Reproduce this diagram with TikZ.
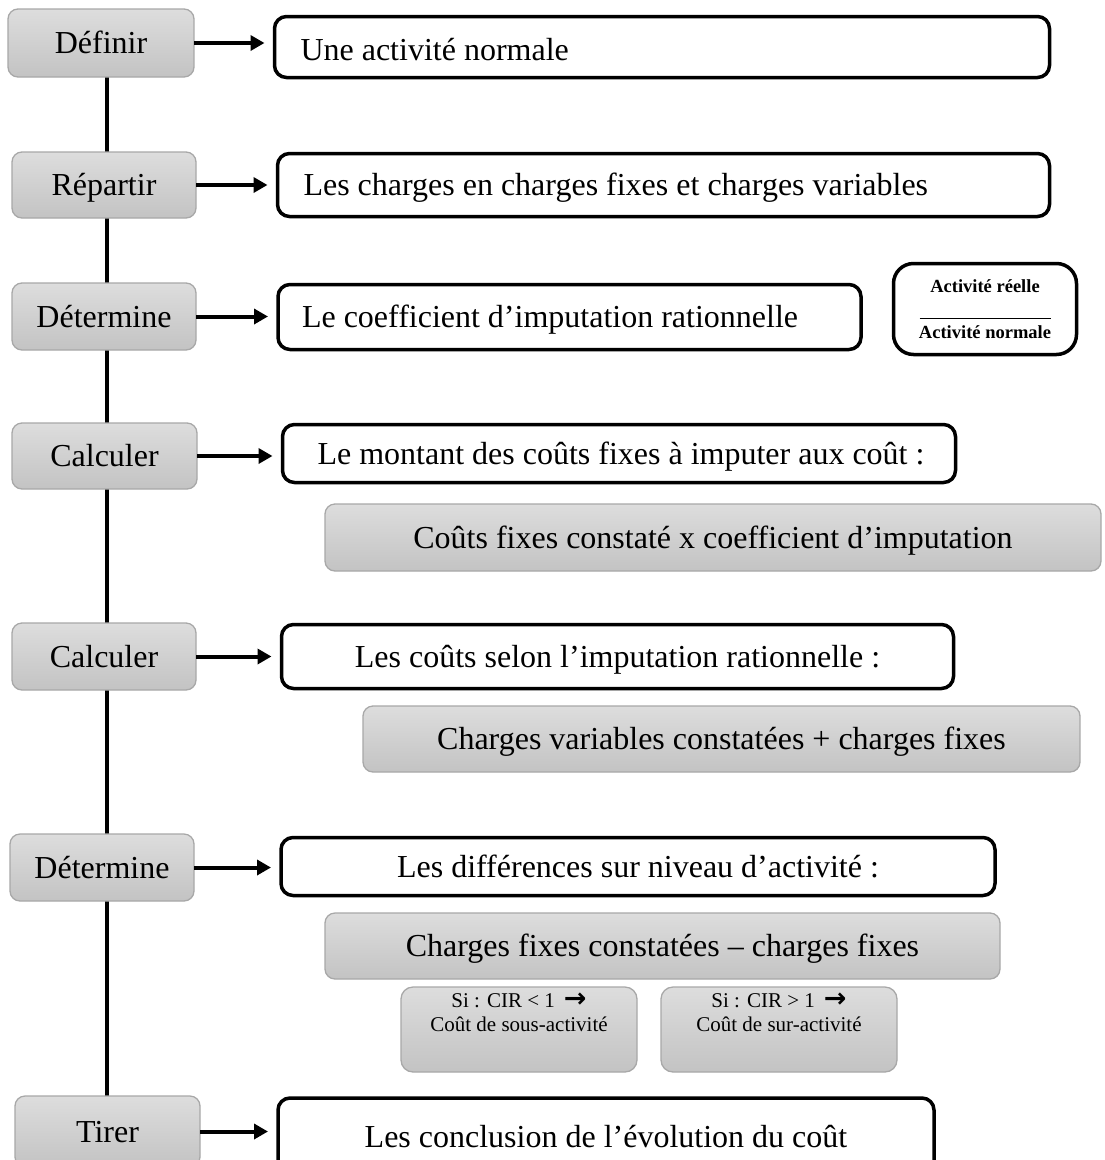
\documentclass[tikz,border=0pt]{standalone}
\usepackage{fontspec}
\setmainfont{Liberation Serif}
\newfontfamily\arrowfont{DejaVu Sans}
\usetikzlibrary{arrows.meta,backgrounds}
\definecolor{boxtop}{RGB}{221,221,221}
\definecolor{boxbot}{RGB}{195,195,195}
\definecolor{boxedge}{RGB}{168,168,168}
\newcommand{\thenarrow}{{\arrowfont\bfseries\fontsize{27}{24}\selectfont →}}
\begin{document}
\begin{tikzpicture}[x=1pt,y=-1pt,
  every node/.style={inner sep=0pt, outer sep=0pt},
  bigfont/.style={font=\fontsize{32}{38}\selectfont, text height=21pt, text depth=0pt},
  graybox/.style={draw=boxedge, line width=1.3pt, rounded corners=10pt,
    top color=boxtop, bottom color=boxbot, bigfont},
  framebox/.style={draw=black, line width=3.5pt, rounded corners=12pt,
    fill=white, bigfont},
  leftframe/.style={framebox, align=flush left},
  smallbox/.style={draw=boxedge, line width=1.3pt, rounded corners=12pt,
    top color=boxtop, bottom color=boxbot},
  smalltext/.style={font=\fontsize{21}{24}\selectfont, align=center},
  link/.style={line width=4pt, -{Triangle[length=14pt,width=15pt]}, shorten >=10pt},
  spine/.style={line width=4pt}
]
\useasboundingbox (0,0) rectangle (1104,1160);

% steps on the left
\node[graybox, minimum width=186, minimum height=68] (L1) at (101,43) {Définir};
\node[graybox, minimum width=184, minimum height=66] (L2) at (104,185) {Répartir};
\node[graybox, minimum width=184, minimum height=67] (L3) at (104,316.5) {Détermine};
\node[graybox, minimum width=185, minimum height=66] (L4) at (104.5,456) {Calculer};
\node[graybox, minimum width=184, minimum height=67] (L5) at (104,656.5) {Calculer};
\node[graybox, minimum width=184, minimum height=67] (L6) at (102,867.5) {Détermine};
\node[graybox, minimum width=185, minimum height=71] (L7) at (107.5,1131.5) {Tirer};

% what each step is about
\node[leftframe, minimum height=61, inner xsep=26pt, text width=723pt, text height=26pt]
  (R1) at (662,47) {\mbox{Une activité normale}};
\node[leftframe, minimum height=63, inner xsep=26pt, text width=720pt]
  (R2) at (663.5,185) {\mbox{Les charges en charges fixes et charges variables}};
\node[leftframe, minimum height=65, inner xsep=24pt, text width=535pt]
  (R3) at (569.5,317) {\mbox{Le coefficient d’imputation rationnelle}};
\node[draw=black, line width=3.5pt, rounded corners=20pt, fill=white,
  minimum width=183, minimum height=91, align=center,
  font=\fontsize{18.5}{23}\selectfont\bfseries]
  (F) at (985,309) {Activité réelle\\\rule[-3.5pt]{131pt}{1pt}\\Activité normale};
\node[leftframe, minimum height=58, inner xsep=35pt, text width=603pt]
  (R4) at (619,453.5) {\mbox{Le montant des coûts fixes à imputer aux coût :}};
\node[graybox, minimum width=776, minimum height=67] (G4) at (713,537.5)
  {Coûts fixes constaté x coefficient d’imputation};
\node[framebox, minimum width=672, minimum height=64] (R5) at (617.5,656.5)
  {Les coûts selon l’imputation rationnelle :};
\node[graybox, minimum width=717, minimum height=66] (G5) at (721.5,739)
  {Charges variables constatées + charges fixes};
\node[framebox, minimum width=714, minimum height=58] (R6) at (638,866.5)
  {Les différences sur niveau d’activité :};
\node[graybox, minimum width=675, minimum height=66] (G6) at (662.5,946)
  {Charges fixes constatées – charges fixes};
\node[smallbox, minimum width=236, minimum height=85] (S1) at (519,1029.5) {};
\node[smallbox, minimum width=236, minimum height=85] (S2) at (779,1029.5) {};
\node[smalltext, anchor=north] (S1t) at ([yshift=-6pt]S1.north)
  {Si : CIR < 1\hspace{9pt}\thenarrow\\Coût de sous-activité};
\node[smalltext, anchor=north] (S2t) at ([yshift=-6pt]S2.north)
  {Si : CIR > 1\hspace{9pt}\thenarrow\\Coût de sur-activité};
\node[framebox, minimum width=656, minimum height=78] (R7) at (606,1137)
  {Les conclusion de l’évolution du coût};

% the spine joining the steps
\begin{scope}[on background layer]
  \draw[spine] ([xshift=6pt]L1.south) -- ([xshift=6pt]L1.south |- L7.north);
\end{scope}

% arrows from each step to its content
\foreach \a/\b in {L1/R1, L2/R2, L3/R3, L4/R4, L5/R5, L6/R6, L7/R7}
  \draw[link] (\a.east) -- (\a.east -| \b.west);
\end{tikzpicture}
\end{document}
